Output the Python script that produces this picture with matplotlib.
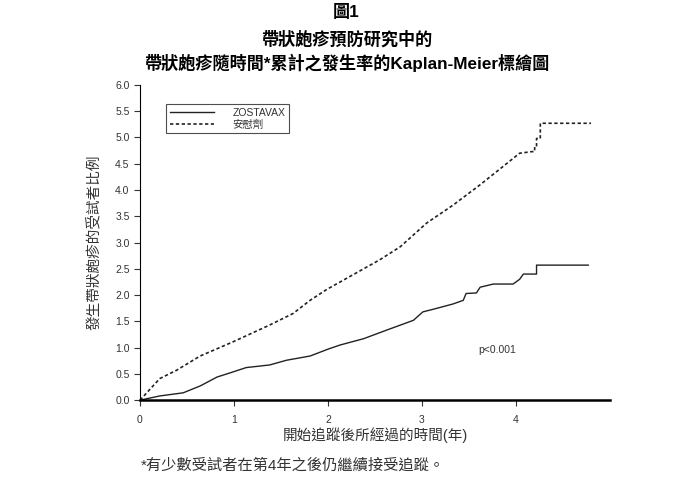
import matplotlib.pyplot as plt

plt.rcParams['font.family'] = ['Liberation Sans', 'Noto Sans CJK TC']

# Kaplan-Meier cumulative incidence (%)
years_vax = [0, 0.21, 0.46, 0.64, 0.82, 0.96, 1.13, 1.38, 1.56, 1.81, 2.0, 2.13, 2.38,
             2.62, 2.91, 3.01, 3.12, 3.33, 3.44, 3.47, 3.58, 3.62, 3.76, 3.97, 4.04,
             4.08, 4.22, 4.22, 4.77]
rate_vax = [0, 0.08, 0.14, 0.27, 0.44, 0.52, 0.62, 0.67, 0.76, 0.84, 0.97, 1.05, 1.17,
            1.33, 1.52, 1.68, 1.73, 1.83, 1.90, 2.03, 2.04, 2.15, 2.21, 2.21, 2.30,
            2.40, 2.40, 2.57, 2.57]

years_pbo = [0, 0.21, 0.39, 0.64, 0.99, 1.38, 1.63, 1.81, 1.99, 2.55, 2.77, 3.05,
             3.33, 3.62, 3.83, 4.04, 4.17, 4.20, 4.20, 4.22, 4.22, 4.26, 4.26, 4.80]
rate_pbo = [0, 0.41, 0.57, 0.84, 1.11, 1.43, 1.65, 1.90, 2.11, 2.67, 2.92, 3.37,
            3.71, 4.10, 4.40, 4.70, 4.73, 4.73, 4.83, 4.83, 4.98, 4.98, 5.27, 5.27]

fig = plt.figure(figsize=(6.93, 4.88), dpi=100)
ax = fig.add_axes([0.202, 0.180, 0.678, 0.646])

ax.plot(years_vax, rate_vax, color='#222222', lw=1.0, label='ZOSTAVAX')
ax.plot(years_pbo, rate_pbo, color='#222222', lw=1.2, linestyle=(0, (2, 1.5)), label='安慰劑')

ax.set_xlim(0, 5)
ax.set_ylim(0, 6)
ax.set_xticks([0, 1, 2, 3, 4])
ax.set_yticks([i * 0.5 for i in range(13)])
ax.set_yticklabels([f'{i * 0.5:.1f}' for i in range(13)])
for s in ['top', 'right']:
    ax.spines[s].set_visible(False)
ax.spines['bottom'].set_linewidth(1.8)
ax.spines['left'].set_linewidth(0.8)
ax.tick_params(axis='both', labelsize=7.5, colors='#333333', length=4, width=0.8)
ax.tick_params(axis='x', pad=7)

ax.set_xlabel('開始追蹤後所經過的時間(年)', fontsize=10.5, color='#333333', labelpad=1)
ax.set_ylabel('發生帶狀皰疹的受試者比例', fontsize=10.5, color='#333333', labelpad=10)

ax.text(3.8, 0.95, 'p<0.001', fontsize=7.5, color='#333333', ha='center', va='center')

leg = ax.legend(loc='upper left', bbox_to_anchor=(0.045, 0.955), fontsize=7.5,
                frameon=True, fancybox=False, edgecolor='#222222', handlelength=4.2,
                borderpad=0.35, labelspacing=0.15, handletextpad=1.8)
leg.get_frame().set_linewidth(0.8)
for t in leg.get_texts():
    t.set_color('#333333')

fig.text(0.5, 0.975, '圖1', fontsize=12.3, fontweight='bold', ha='center', va='center')
fig.text(0.5, 0.921, '帶狀皰疹預防研究中的', fontsize=12.3, fontweight='bold', ha='center', va='center')
fig.text(0.5, 0.872, '帶狀皰疹隨時間*累計之發生率的Kaplan-Meier標繪圖', fontsize=12.3,
         fontweight='bold', ha='center', va='center')

fig.text(0.203, 0.047, '*有少數受試者在第4年之後仍繼續接受追蹤。', fontsize=11,
         color='#333333', ha='left', va='center')

fig.savefig('out.png', dpi=100)
